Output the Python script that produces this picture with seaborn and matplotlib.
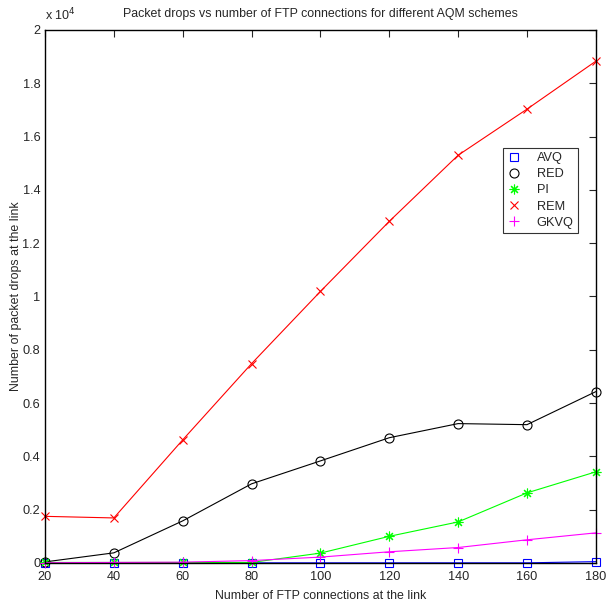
import pandas as pd
import matplotlib
matplotlib.use("Agg")
import matplotlib.pyplot as plt
import seaborn as sns
from matplotlib.ticker import FuncFormatter

# Connections at the link
ftp_connections = [20, 40, 60, 80, 100, 120, 140, 160, 180]

# Packet drops for each AQM scheme
avq = [5, 5, 5, 5, 5, 5, 5, 5, 50]
red = [40, 380, 1580, 2970, 3830, 4700, 5230, 5190, 6430]
pi = [20, 20, 20, 20, 370, 1000, 1540, 2630, 3420]
rem = [1750, 1690, 4620, 7480, 10190, 12820, 15300, 17030, 18830]
gkvq = [10, 20, 30, 90, 220, 420, 580, 870, 1130]

series = {"AVQ": avq, "RED": red, "PI": pi, "REM": rem, "GKVQ": gkvq}
cores = {"AVQ": "#0000ff", "RED": "#000000", "PI": "#00ff00", "REM": "#ff0000", "GKVQ": "#ff00ff"}
marcadores = {"AVQ": "s", "RED": "o", "PI": (8, 2, 0), "REM": "x", "GKVQ": "+"}
tamanhos = {"AVQ": 6, "RED": 6.5, "PI": 7, "REM": 6, "GKVQ": 7.5}

sns.set_style("white")
plt.rcParams["font.family"] = ["Liberation Sans", "DejaVu Sans"]

fig = plt.figure(figsize=(6.08, 6.06), dpi=100)
ax = fig.add_axes([0.074, 0.071, 0.906, 0.8795])

for nome, valores in series.items():
    df = pd.DataFrame({"x": ftp_connections, "y": valores})
    sns.lineplot(data=df, x="x", y="y", ax=ax, color=cores[nome], linewidth=0.8,
                 marker=marcadores[nome], markersize=tamanhos[nome],
                 markerfacecolor="none", markeredgecolor=cores[nome],
                 markeredgewidth=0.8, label=nome, clip_on=False)

ax.set_xlim(20, 180)
ax.set_ylim(0, 20000)
ax.set_xticks(ftp_connections)
ax.set_yticks(range(0, 20001, 2000))
ax.yaxis.set_major_formatter(FuncFormatter(lambda v, p: f"{v / 1e4:g}"))
ax.tick_params(direction="in", length=5, width=0.8, top=True, right=True, labelsize=9.2)
ax.tick_params(axis="x", pad=5.5)
ax.tick_params(axis="y", pad=3.5)
for s in ax.spines.values():
    s.set_color("black")
    s.set_linewidth(1.0)

ax.text(0.0, 1.012, "x 10$^4$", transform=ax.transAxes, fontsize=9, ha="left", va="bottom")
ax.set_title("Packet drops vs number of FTP connections for different AQM schemes",
             fontsize=8.9, pad=9)
ax.set_xlabel("Number of FTP connections at the link", fontsize=8.9, labelpad=5)
ax.set_ylabel("Number of packet drops at the link", fontsize=8.9)
ax.yaxis.set_label_coords(-0.042, 0.5)

leg = ax.legend(loc="upper left", bbox_to_anchor=(0.831, 0.779), fontsize=9.2,
                frameon=True, fancybox=False, handlelength=1.0, handletextpad=1.3,
                borderpad=0.35, labelspacing=0.32, borderaxespad=0)
leg.get_frame().set_edgecolor("black")
leg.get_frame().set_linewidth(0.8)
for h in leg.get_lines():
    h.set_linestyle("none")

fig.savefig("out.png", dpi=100)
